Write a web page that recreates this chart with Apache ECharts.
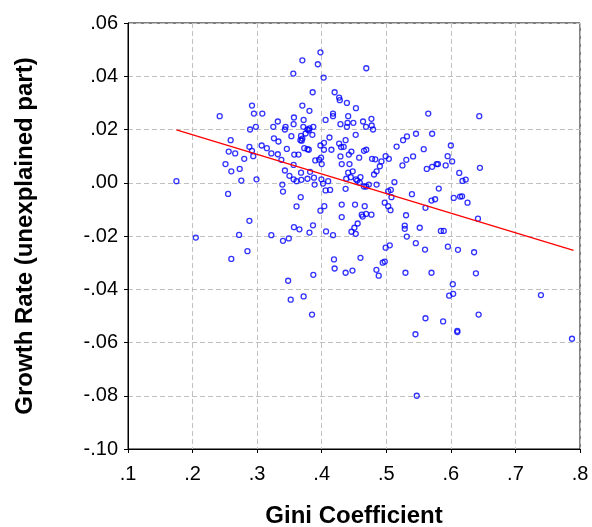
<!DOCTYPE html>
<html>
<head>
<meta charset="utf-8">
<script src="https://cdn.jsdelivr.net/npm/echarts@6/dist/echarts.min.js"></script>
<style>html,body{margin:0;padding:0;background:#fff;}#chart{width:592px;height:527px;}</style>
</head>
<body>
<div id="chart"></div>
<script>
// Gini coefficient (x) and growth rate, unexplained part (y)
var giniX = [
0.292,0.295,0.308,0.242,0.298,0.289,0.259,0.288,0.292,0.307,0.315,0.256,0.266,0.294,0.280,0.251,
0.398,0.370,0.394,0.356,0.469,0.403,0.386,0.420,0.427,0.428,0.439,0.453,0.370,0.381,0.4175,0.4175,0.441,0.357,0.372,0.406,0.429,0.440,0.449,0.464,0.477,0.332,0.3565,0.325,0.344,0.343,0.3715,0.378,0.380,0.381,0.387,0.375,0.3855,0.439,0.4526,0.4686,0.4774,0.4795,0.353,0.326,0.333,0.368,0.370,0.369,0.367,0.412,0.4035,0.398,0.373,0.378,0.380,0.4035,0.415,0.427,0.437,0.430,0.434,0.446,0.442,0.429,0.4655,0.469,0.458,0.478,0.346,0.332,0.322,0.3575,0.364,0.3375,0.390,0.396,0.399,0.400,0.431,0.443,0.3565,
0.565,0.644,0.526,0.532,0.546,0.571,0.516,0.558,0.600,0.499,0.504,0.483,0.4925,0.531,0.5415,0.595,0.602,0.525,0.578,0.580,0.592,0.571,
0.260,0.273,0.175,0.2755,0.299,0.255,0.288,0.205,0.272,0.322,0.285,0.260,
0.343,0.350,0.3565,0.361,0.368,0.3685,0.378,0.382,0.388,0.389,0.3995,0.402,0.410,0.406,0.413,0.441,0.448,0.438,0.445,0.453,0.455,0.460,0.459,0.4655,0.469,0.473,0.481,0.437,0.339,0.340,0.3675,0.361,0.404,0.398,0.431,0.4516,0.4666,0.431,0.462,0.4635,0.4687,0.477,0.4557,0.4506,0.446,0.4527,0.3865,0.357,0.3655,0.381,0.4067,0.4175,0.340,0.349,0.419,0.460,0.420,0.437,0.4476,0.387,0.348,0.352,0.372,0.385,
0.490,0.485,0.5627,0.613,0.645,0.618,0.623,0.5126,0.485,0.503,0.507,0.508,0.5397,0.5813,0.6045,0.6143,0.6174,0.570,0.5756,0.6258,0.4976,0.503,0.5065,0.5607,0.5306,0.642,0.5286,0.5286,0.5518,0.5318,0.5845,0.589,0.5457,0.499,0.5054,0.560,0.5954,0.611,0.636,0.4945,0.4976,0.4847,0.4883,0.5297,0.570,0.6388,0.603,0.6036,0.5974,
0.5607,0.588,0.5452,0.610,0.610,0.643,0.5472,0.7395,0.7876
];
var growthY = [
0.029,0.026,0.026,0.025,0.021,0.020,0.016,0.0135,0.012,0.014,0.013,0.0117,0.011,0.010,0.009,0.007,
0.049,0.046,0.0445,0.041,0.043,0.0395,0.034,0.034,0.032,0.031,0.030,0.028,0.029,0.027,0.026,0.025,0.025,0.0245,0.0236,0.0236,0.022,0.0225,0.0225,0.023,0.024,0.023,0.022,0.021,0.021,0.020,0.021,0.020,0.0197,0.0204,0.021,0.0185,0.018,0.021,0.018,0.021,0.0215,0.020,0.0175,0.0167,0.0155,0.0176,0.0166,0.0158,0.016,0.017,0.015,0.014,0.013,0.0126,0.0124,0.0124,0.0124,0.0147,0.016,0.0134,0.0135,0.0117,0.0106,0.0099,0.012,0.0124,0.0094,0.009,0.0127,0.0107,0.011,0.0106,0.0106,0.0086,0.0084,0.0087,0.0094,0.007,0.007,0.007,0.0067,
0.026,0.025,0.016,0.0174,0.0184,0.0184,0.0136,0.0126,0.014,0.010,0.009,0.0088,0.008,0.0086,0.0099,0.010,0.008,0.0065,0.007,0.007,0.0065,0.006,
0.0043,0.0052,0.0006,0.0008,0.0013,-0.0042,-0.0143,-0.0206,-0.0196,-0.0197,-0.0257,-0.0286,
0.0046,0.0026,0.0013,0.0006,0.0038,0.0011,0.0015,0.0041,0.0019,-0.0007,0.0013,-0.0003,0.0006,-0.0029,-0.0027,0.0038,0.0043,0.0015,0.0021,0.0013,0.0008,0.0021,0.0,-0.0014,-0.0014,-0.0007,0.0031,-0.0023,-0.0007,-0.0033,-0.0054,-0.0089,-0.0088,-0.0105,-0.0082,-0.0082,-0.0088,-0.0129,-0.012,-0.0127,-0.0117,-0.012,-0.0153,-0.0169,-0.0184,-0.0192,-0.016,-0.0167,-0.0175,-0.0187,-0.0183,-0.0197,-0.0218,-0.0209,-0.0288,-0.0282,-0.0322,-0.0338,-0.033,-0.0346,-0.0368,-0.0439,-0.0427,-0.0495,
0.0062,0.0043,0.0052,0.0037,0.0056,0.0007,0.0012,0.0002,-0.0007,-0.0032,-0.0027,-0.0054,-0.0043,-0.0022,-0.0057,-0.0052,-0.0051,-0.0067,-0.0062,-0.0075,-0.0075,-0.0088,-0.0103,-0.0094,-0.0122,-0.0135,-0.0161,-0.0173,-0.0169,-0.0202,-0.0181,-0.0181,-0.0227,-0.0244,-0.0235,-0.0251,-0.024,-0.0252,-0.0261,-0.030,-0.0296,-0.0327,-0.0349,-0.0338,-0.0338,-0.034,-0.0381,-0.0417,-0.0424,
-0.0509,-0.0521,-0.0569,-0.0556,-0.0561,-0.0495,-0.080,-0.0422,-0.0586
];
// fitted regression line end points
var fitX = [0.175, 0.79];
var fitY = [0.0199, -0.0254];

var xTicks = ['.1','.2','.3','.4','.5','.6','.7','.8'];
var yTicks = ['-.10','-.08','-.06','-.04','-.02','.00','.02','.04','.06'];

var points = giniX.map(function(x, i){ return [x, growthY[i]]; });
var fitLine = fitX.map(function(x, i){ return [x, fitY[i]]; });

var chart = echarts.init(document.getElementById('chart'), null, {renderer:'canvas'});
var FONT = '"Liberation Sans", Arial, sans-serif';
chart.setOption({
  animation: false,
  backgroundColor: '#fff',
  grid: {left:128, right:12, top:23, bottom:78, containLabel:false, outerBoundsMode:'none',
         show:true, borderColor:'#000', borderWidth:1, backgroundColor:'transparent'},
  xAxis: {
    type:'value', min:0.1, max:0.8, interval:0.1,
    name:'Gini Coefficient', nameLocation:'middle', nameGap:55,
    nameTextStyle:{fontFamily:FONT, fontWeight:'bold', fontSize:24, color:'#000'},
    axisLine:{show:true, onZero:false, lineStyle:{color:'#000', width:1}},
    axisTick:{show:true, inside:false, length:4, lineStyle:{color:'#000'}},
    axisLabel:{fontFamily:FONT, fontSize:20, color:'#000', margin:15,
      formatter:function(v){ return xTicks[Math.round((v-0.1)/0.1)]; }},
    splitLine:{show:true, lineStyle:{color:'#c0c0c0', type:[5,3], width:1}}
  },
  yAxis: {
    type:'value', min:-0.1, max:0.06, interval:0.02,
    name:'Growth Rate (unexplained part)', nameLocation:'middle', nameGap:91,
    nameTextStyle:{fontFamily:FONT, fontWeight:'bold', fontSize:24, color:'#000'},
    axisLine:{show:true, onZero:false, lineStyle:{color:'#000', width:1}},
    axisTick:{show:true, inside:false, length:4, lineStyle:{color:'#000'}},
    axisLabel:{fontFamily:FONT, fontSize:20, color:'#000', margin:10,
      formatter:function(v){ return yTicks[Math.round((v+0.1)/0.02)]; }},
    splitLine:{show:true, lineStyle:{color:'#c0c0c0', type:[5,3], width:1}}
  },
  series: [
    {type:'scatter', data:points, symbol:'circle', symbolSize:5,
     itemStyle:{color:'rgba(0,0,0,0)', borderColor:'#0000ff', borderWidth:1.3}, z:3},
    {type:'line', data:fitLine, symbol:'none', lineStyle:{color:'#ff0000', width:1.3}, z:4}
  ]
});
</script>
</body>
</html>
